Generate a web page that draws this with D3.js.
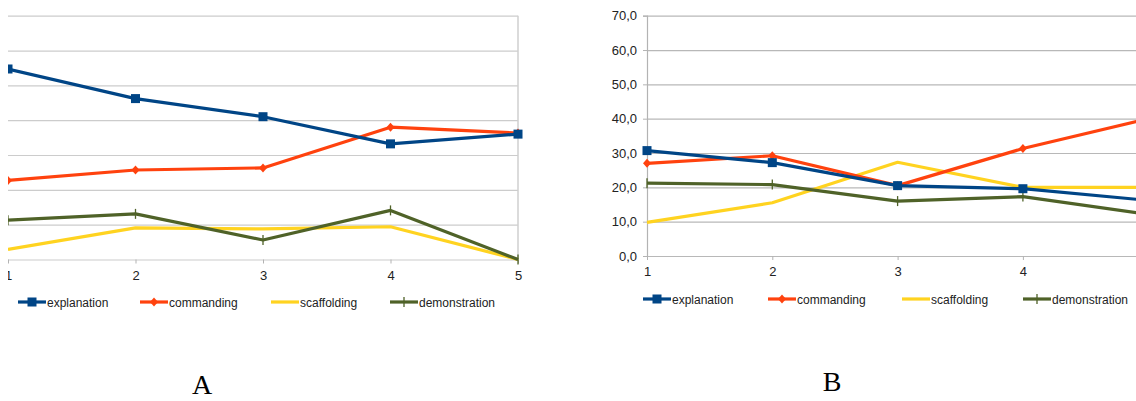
<!DOCTYPE html>
<html>
<head>
<meta charset="utf-8">
<script src="https://cdn.jsdelivr.net/npm/d3@7"></script>
<style>
  html, body { margin: 0; padding: 0; background: #fff; }
  svg { display: block; }
</style>
</head>
<body>
<svg id="chart" width="1136" height="401"></svg>
<script>
// ---- data ----
const categories = [1, 2, 3, 4, 5];
const seriesNames = ["explanation", "commanding", "scaffolding", "demonstration"];
const yTicks = [0, 10, 20, 30, 40, 50, 60, 70];

// Chart A
const explanationA   = [54.7, 46.2, 41.0, 33.2, 36.0];
const commandingA    = [22.7, 25.7, 26.3, 38.0, 36.3];
const scaffoldingA   = [2.9, 9.1, 8.8, 9.4, 0.0];
const demonstrationA = [11.3, 13.1, 5.6, 14.1, 0.0];

// Chart B
const explanationB   = [30.7, 27.2, 20.5, 19.6, 16.2];
const commandingB    = [27.0, 29.2, 20.5, 31.3, 40.0];
const scaffoldingB   = [9.8, 15.5, 27.3, 20.0, 20.0];
const demonstrationB = [21.2, 20.8, 16.0, 17.3, 12.1];

const panelLabels = ["A", "B"];

// ---- styles ----
const colors = {
  explanation: "#004586",
  commanding: "#ff420e",
  scaffolding: "#ffd320",
  demonstration: "#4f6228"
};
const svg = d3.select("#chart");
const defs = svg.append("defs");

function drawMarker(g, name, x, y) {
  const c = colors[name];
  if (name === "explanation") {
    g.append("rect").attr("x", x - 4.5).attr("y", y - 4.5).attr("width", 9).attr("height", 9).attr("fill", c);
  } else if (name === "commanding") {
    g.append("path").attr("d", `M${x},${y-4.5}L${x+4},${y}L${x},${y+4.5}L${x-4},${y}Z`).attr("fill", c);
  } else if (name === "demonstration") {
    g.append("line").attr("x1", x).attr("x2", x).attr("y1", y - 5).attr("y2", y + 5)
      .attr("stroke", c).attr("stroke-width", 1.3);
  }
}

function drawChart(cfg) {
  const clipId = "clip" + cfg.id;
  defs.append("clipPath").attr("id", clipId)
    .append("rect").attr("x", cfg.clipX).attr("y", 0).attr("width", cfg.clipW).attr("height", 401);
  const g = svg.append("g").attr("clip-path", `url(#${clipId})`);

  const x = d3.scalePoint().domain(categories).range([cfg.x0, cfg.x1]);
  const y = d3.scaleLinear().domain([0, 70]).range([cfg.yBottom, cfg.yTop]);

  // gridlines
  const grid = d3.axisLeft(y).tickValues(yTicks).tickSize(-(cfg.x1 - cfg.x0)).tickFormat("");
  const gg = g.append("g").attr("transform", `translate(${cfg.x0},0)`).call(grid);
  gg.select(".domain").remove();
  gg.selectAll("line").attr("stroke", cfg.gridColor).attr("stroke-width", 1.2);

  // y axis labels (B only)
  if (cfg.showY) {
    const ya = d3.axisLeft(y).tickValues(yTicks).tickSize(4).tickPadding(6)
      .tickFormat(d => d3.format(".1f")(d).replace(".", ","));
    const yg = g.append("g").attr("transform", `translate(${cfg.x0},0)`).call(ya);
    yg.select(".domain").attr("stroke", "#b3b3b3").attr("stroke-width", 1.2);
    yg.selectAll("line").attr("stroke", "#b3b3b3");
    yg.selectAll("text").attr("font-family", "Liberation Sans, Arial, sans-serif")
      .attr("font-size", 13).attr("fill", "#222");
  }
  if (cfg.rightBorder) {
    g.append("line").attr("x1", cfg.x1).attr("x2", cfg.x1).attr("y1", cfg.yTop).attr("y2", cfg.yBottom)
      .attr("stroke", "#cfcfcf").attr("stroke-width", 1.5);
  }

  // x axis
  const xa = d3.axisBottom(x).tickSize(4).tickPadding(7)
    .tickFormat(d => cfg.xLabels.includes(d) ? String(d) : "");
  const xg = g.append("g").attr("transform", `translate(0,${cfg.yBottom})`).call(xa);
  xg.select(".domain").remove();
  xg.selectAll("line").attr("stroke", "#b3b3b3");
  xg.selectAll("text").attr("font-family", "Liberation Sans, Arial, sans-serif")
    .attr("font-size", 13).attr("fill", "#222");

  // series lines
  const line = d3.line().x((d, i) => x(categories[i])).y(d => y(d));
  const order = ["scaffolding", "demonstration", "commanding", "explanation"];
  order.forEach(name => {
    const vals = cfg.data[name];
    g.append("path").datum(vals).attr("d", line).attr("fill", "none")
      .attr("stroke", colors[name]).attr("stroke-width", 3.2).attr("stroke-linejoin", "round");
    vals.forEach((v, i) => drawMarker(g, name, x(categories[i]), y(v)));
  });

  // legend
  seriesNames.forEach((name, i) => {
    const lx = cfg.legendX[i];
    const ly = cfg.legendY;
    g.append("line").attr("x1", lx).attr("x2", lx + 28).attr("y1", ly).attr("y2", ly)
      .attr("stroke", colors[name]).attr("stroke-width", 3.2);
    drawMarker(g, name, lx + 14, ly);
    g.append("text").attr("x", lx + 29).attr("y", ly + 4.5).text(name)
      .attr("font-family", "Liberation Sans, Arial, sans-serif").attr("font-size", 12).attr("fill", "#222");
  });

  // panel label
  svg.append("text").attr("x", cfg.labelX).attr("y", cfg.labelY).text(cfg.label)
    .attr("font-family", "Liberation Serif, Times New Roman, serif").attr("font-size", 28)
    .attr("text-anchor", "middle").attr("fill", "#000");
}

drawChart({
  id: "A", clipX: 8, clipW: 560,
  x0: 8, x1: 518, yTop: 15.7, yBottom: 259.5,
  gridColor: "#cccccc", showY: false, rightBorder: true, xLabels: [1, 2, 3, 4, 5],
  data: { explanation: explanationA, commanding: commandingA, scaffolding: scaffoldingA, demonstration: demonstrationA },
  legendX: [18, 140, 271, 390], legendY: 302,
  label: panelLabels[0], labelX: 202, labelY: 394
});

drawChart({
  id: "B", clipX: 580, clipW: 560,
  x0: 647, x1: 1148.2, yTop: 15.7, yBottom: 256,
  gridColor: "#b8b8b8", showY: true, rightBorder: false, xLabels: [1, 2, 3, 4],
  data: { explanation: explanationB, commanding: commandingB, scaffolding: scaffoldingB, demonstration: demonstrationB },
  legendX: [643, 768, 902, 1023], legendY: 299,
  label: panelLabels[1], labelX: 832, labelY: 391
});
</script>
</body>
</html>
